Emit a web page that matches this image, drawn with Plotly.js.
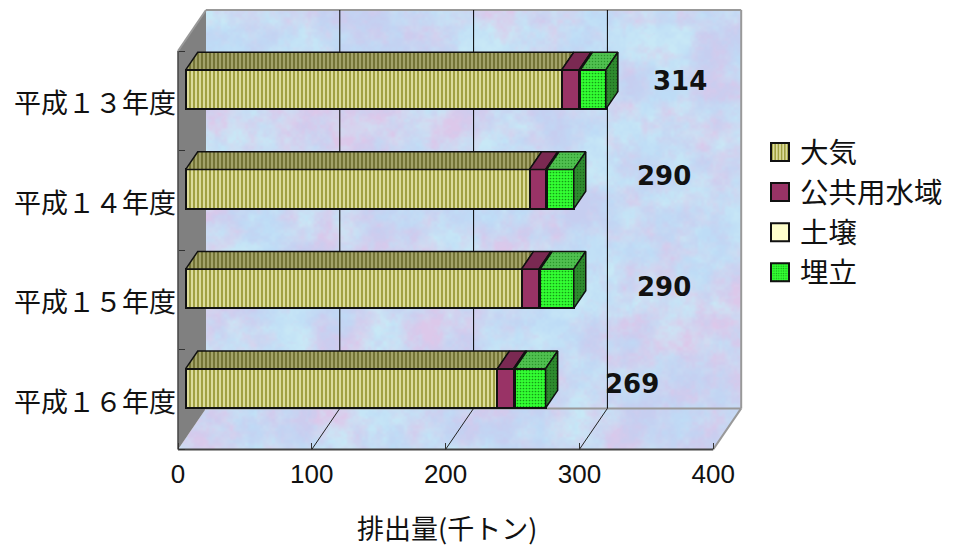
<!DOCTYPE html>
<html>
<head>
<meta charset="utf-8">
<script src="https://cdn.plot.ly/plotly-3.0.1.min.js"></script>
<style>html,body{margin:0;padding:0;background:#fff}#chart{width:953px;height:548px}</style>
</head>
<body>
<div id="chart"></div>
<script>
// Emissions by receiving medium, thousand tonnes per fiscal year
const years = ['平成１３年度', '平成１４年度', '平成１５年度', '平成１６年度'];
const air = [281, 257, 251, 233];
const water = [13, 12, 13, 12];
const soil = [1, 1, 1, 1];
const landfill = [19, 20, 25, 23];
const totals = [314, 290, 290, 269];
const seriesNames = ['大気', '公共用水域', '土壌', '埋立'];
const xTicks = [0, 100, 200, 300, 400];

const W = 953, H = 548;
const pxPerValue = 1.338, pxPerRow = 99.6;
const originX = 178, topY = 51;
const JP = '"Noto Sans CJK JP", sans-serif';

const toPxX = v => originX + v * pxPerValue;
const toPxY = r => topY + (r + 0.5) * pxPerRow;

// Oblique projection: depth 1 is the back wall, depth 0 the front edge
const wallDX = 28 / pxPerValue, wallDY = 41 / pxPerRow;
const barOffset = 0.275, barDepth = 0.43, barHeight = 0.395;
const rowMin = -0.5, rowMax = 3.5;
const barRow = i => i - barOffset * wallDY;

// Smooth lattice noise used for the mottled paper
function lattice(ix, iy, seed) {
  const s = Math.sin(ix * 127.1 + iy * 311.7 + seed * 74.7) * 43758.5453;
  return s - Math.floor(s);
}
function smoothNoise(x, y, seed) {
  const ix = Math.floor(x), iy = Math.floor(y);
  let fx = x - ix, fy = y - iy;
  fx = fx * fx * (3 - 2 * fx); fy = fy * fy * (3 - 2 * fy);
  const a = lattice(ix, iy, seed), b = lattice(ix + 1, iy, seed);
  const c = lattice(ix, iy + 1, seed), d = lattice(ix + 1, iy + 1, seed);
  return (a + (b - a) * fx) * (1 - fy) + (c + (d - c) * fx) * fy;
}
function layered(x, y, seed) {
  return (smoothNoise(x / 42, y / 42, seed) * 3 + smoothNoise(x / 18, y / 18, seed + 1) * 2.2 +
          smoothNoise(x / 7, y / 7, seed + 2) * 1.4 + smoothNoise(x / 3, y / 3, seed + 3) * .8) / 7.4;
}

// Pastel mottled paper for the back wall and the floor
function wallTexture() {
  const c = document.createElement('canvas');
  c.width = W; c.height = H;
  const g = c.getContext('2d');
  const img = g.createImageData(W, H);
  const sky = [190, 220, 246], rose = [220, 200, 234], lilac = [198, 206, 240], pale = [200, 232, 246];
  for (let y = 0; y < H; y++) for (let x = 0; x < W; x++) {
    const u = Math.min(1, Math.max(0, (layered(x, y, 1) - .3) * 2.5));
    const v = Math.min(1, Math.max(0, (layered(x, y, 9) - .3) * 2.5));
    const i = (y * W + x) * 4;
    for (let k = 0; k < 3; k++) {
      const top = sky[k] + (pale[k] - sky[k]) * v;
      const bottom = lilac[k] + (rose[k] - lilac[k]) * v;
      img.data[i + k] = top + (bottom - top) * u;
    }
    img.data[i + 3] = 255;
  }
  const t = document.createElement('canvas');
  t.width = W; t.height = H;
  t.getContext('2d').putImageData(img, 0, 0);
  g.clearRect(0, 0, W, H);
  g.beginPath();
  const bx0 = toPxX(wallDX), bx1 = toPxX(400 + wallDX);
  const by0 = toPxY(rowMin - wallDY), by1 = toPxY(rowMax - wallDY);
  g.moveTo(bx0, by0); g.lineTo(bx1, by0); g.lineTo(bx1, by1);
  g.lineTo(toPxX(400), toPxY(rowMax)); g.lineTo(toPxX(0), toPxY(rowMax)); g.lineTo(bx0, by1);
  g.closePath();
  g.clip();
  g.drawImage(t, 0, 0);
  return c.toDataURL('image/png');
}

// Wall, frame and gridlines, placed on the value and row axes
const seg = (x0, y0, x1, y1, color, width) => ({
  type: 'line', layer: 'between', xref: 'x', yref: 'y', x0, y0, x1, y1,
  line: {color, width}
});
const shapes = [
  {type: 'path', layer: 'between', xref: 'x', yref: 'y', fillcolor: '#808080', line: {width: 0},
   path: `M0,${rowMin} L${wallDX},${rowMin - wallDY} L${wallDX},${rowMax - wallDY} L0,${rowMax} Z`},
  seg(0, rowMin, wallDX, rowMin - wallDY, '#999999', 2),
  seg(wallDX, rowMin - wallDY, 400 + wallDX, rowMin - wallDY, '#999999', 2),
  seg(400 + wallDX, rowMin - wallDY, 400 + wallDX, rowMax - wallDY, '#999999', 2),
  seg(wallDX, rowMax - wallDY, 400 + wallDX, rowMax - wallDY, '#999999', 2),
  seg(400 + wallDX, rowMax - wallDY, 400, rowMax, '#999999', 2),
  seg(0, rowMax, 400, rowMax, '#444444', 2),
  seg(0, rowMin, 0, rowMax, '#444444', 1.5)
];
[100, 200, 300].forEach(v => {
  shapes.push(seg(v + wallDX, rowMin - wallDY, v + wallDX, rowMax - wallDY, '#000000', 1));
  shapes.push(seg(v, rowMax, v + wallDX, rowMax - wallDY, '#222222', 1));
});

// Stacked front faces
const outline = {color: '#111111', width: 2};
const frontStyles = [
  {color: '#DCDC9C', pattern: {shape: '|', size: 4, solidity: .45, fgcolor: '#9A9A38', bgcolor: '#DCDC9C'}, line: outline},
  {color: '#993366', line: outline},
  {color: '#FFFFCC', line: outline},
  {color: '#33FF33', pattern: {shape: '.', size: 3, solidity: .25, fgcolor: '#159A15', bgcolor: '#33FF33'}, line: outline}
];
const stacks = [air, water, soil, landfill];
const bars = stacks.map((vals, s) => ({
  type: 'bar', orientation: 'h', xaxis: 'x2', yaxis: 'y',
  name: seriesNames[s],
  x: vals, y: years.map((_, i) => barRow(i)), width: barHeight,
  marker: frontStyles[s], hoverinfo: 'x+name'
}));

// Receding top faces of every segment and the right-hand end of each stack
const dx = barDepth * wallDX, dy = barDepth * wallDY;
function topFaces(s) {
  const xs = [], ys = [];
  years.forEach((_, i) => {
    let start = 0;
    for (let k = 0; k < s; k++) start += stacks[k][i];
    const end = start + stacks[s][i];
    const t = barRow(i) - barHeight / 2;
    xs.push(start, end, end + dx, start + dx, start, null);
    ys.push(t, t, t - dy, t - dy, t, null);
  });
  return {x: xs, y: ys};
}
function endFaces() {
  const xs = [], ys = [];
  years.forEach((_, i) => {
    const end = air[i] + water[i] + soil[i] + landfill[i];
    const t = barRow(i) - barHeight / 2, b = barRow(i) + barHeight / 2;
    xs.push(end, end + dx, end + dx, end, end, null);
    ys.push(t, t - dy, b - dy, b, t, null);
  });
  return {x: xs, y: ys};
}
const faceLine = {color: '#111111', width: 1.5};
const face = (d, color, pattern) => Object.assign({
  type: 'scatter', mode: 'lines', xaxis: 'x2', yaxis: 'y', fill: 'toself',
  fillcolor: color, line: faceLine, showlegend: false, hoverinfo: 'skip'
}, d, pattern ? {fillpattern: pattern} : {});
const faces = [
  face(topFaces(0), '#A3A36A', {shape: '|', size: 4, solidity: .45, fgcolor: '#6F6F30', bgcolor: '#A3A36A'}),
  face(topFaces(1), '#7A2952'),
  face(topFaces(2), '#CCCCA3'),
  face(topFaces(3), '#50C050', {shape: '.', size: 3, solidity: .2, fgcolor: '#2A962A', bgcolor: '#50C050'}),
  face(endFaces(), '#2E8B2E', {shape: '.', size: 3, solidity: .2, fgcolor: '#1E661E', bgcolor: '#2E8B2E'})
];

// Stack totals sit to the right of each bar
const totalShift = [
  {x: 74, y: 9}, {x: 90, y: 13}, {x: 90, y: 2}, {x: 86, y: 4}
];
const annotations = totals.map((t, i) => ({
  x: t, y: barRow(i), xref: 'x2', yref: 'y', text: String(t), showarrow: false,
  xshift: totalShift[i].x, yshift: totalShift[i].y,
  font: {family: '"DejaVu Sans", sans-serif', size: 26, color: '#111111', weight: 700}
}));
annotations.push({
  xref: 'paper', yref: 'paper', x: 447 / W, y: 1 - 527 / H, yanchor: 'middle', showarrow: false,
  text: '排出量(千トン)', font: {family: JP, size: 27, color: '#111111'}
});

const layout = {
  width: W, height: H,
  margin: {l: 0, r: 0, t: 0, b: 0},
  paper_bgcolor: '#ffffff', plot_bgcolor: 'rgba(0,0,0,0)',
  barmode: 'stack',
  xaxis: {
    domain: [0, 1], range: [-originX / pxPerValue, (W - originX) / pxPerValue],
    anchor: 'free', position: 1 - toPxY(rowMax) / H,
    tickvals: xTicks, ticktext: xTicks.map(String),
    ticks: 'inside', ticklen: 6, tickcolor: '#333333', tickwidth: 1,
    ticklabelstandoff: 7,
    showgrid: false, zeroline: false, showline: false,
    tickfont: {family: '"Liberation Sans", Arial, sans-serif', size: 26, color: '#111111'}
  },
  xaxis2: {
    overlaying: 'x', anchor: 'y', visible: false,
    range: [-originX / pxPerValue - barOffset * wallDX, (W - originX) / pxPerValue - barOffset * wallDX]
  },
  yaxis: {
    domain: [0, 1], range: [rowMin + (H - topY) / pxPerRow, rowMin - topY / pxPerRow],
    anchor: 'free', position: originX / W,
    tickvals: years.map((_, i) => i), ticktext: years, ticks: '',
    ticklabelshift: -3, ticklabelstandoff: 2,
    minor: {tickvals: [-.5, .5, 1.5, 2.5, 3.5], ticks: 'inside', ticklen: 6, tickcolor: '#333333', tickwidth: 1},
    showgrid: false, zeroline: false, showline: false,
    tickfont: {family: JP, size: 27, color: '#111111'}
  },
  showlegend: true,
  legend: {
    x: 760 / W, y: 1 - 127 / H, xanchor: 'left', yanchor: 'top',
    traceorder: 'normal', bgcolor: 'rgba(0,0,0,0)',
    font: {family: JP, size: 28.5, color: '#111111'}
  },
  images: [{
    source: wallTexture(), xref: 'paper', yref: 'paper', x: 0, y: 1, sizex: 1, sizey: 1,
    sizing: 'stretch', layer: 'below', xanchor: 'left', yanchor: 'top'
  }],
  shapes, annotations
};

// Larger legend swatches than the library's default
function enlargeSwatches(gd) {
  gd.querySelectorAll('.legendpoints path').forEach(p => p.setAttribute('d', 'M9,9H-9V-9H9Z'));
}
Plotly.newPlot('chart', bars.concat(faces), layout, {displayModeBar: false}).then(gd => {
  enlargeSwatches(gd);
  requestAnimationFrame(() => enlargeSwatches(gd));
  gd.on('plotly_afterplot', () => enlargeSwatches(gd));
});
</script>
</body>
</html>
